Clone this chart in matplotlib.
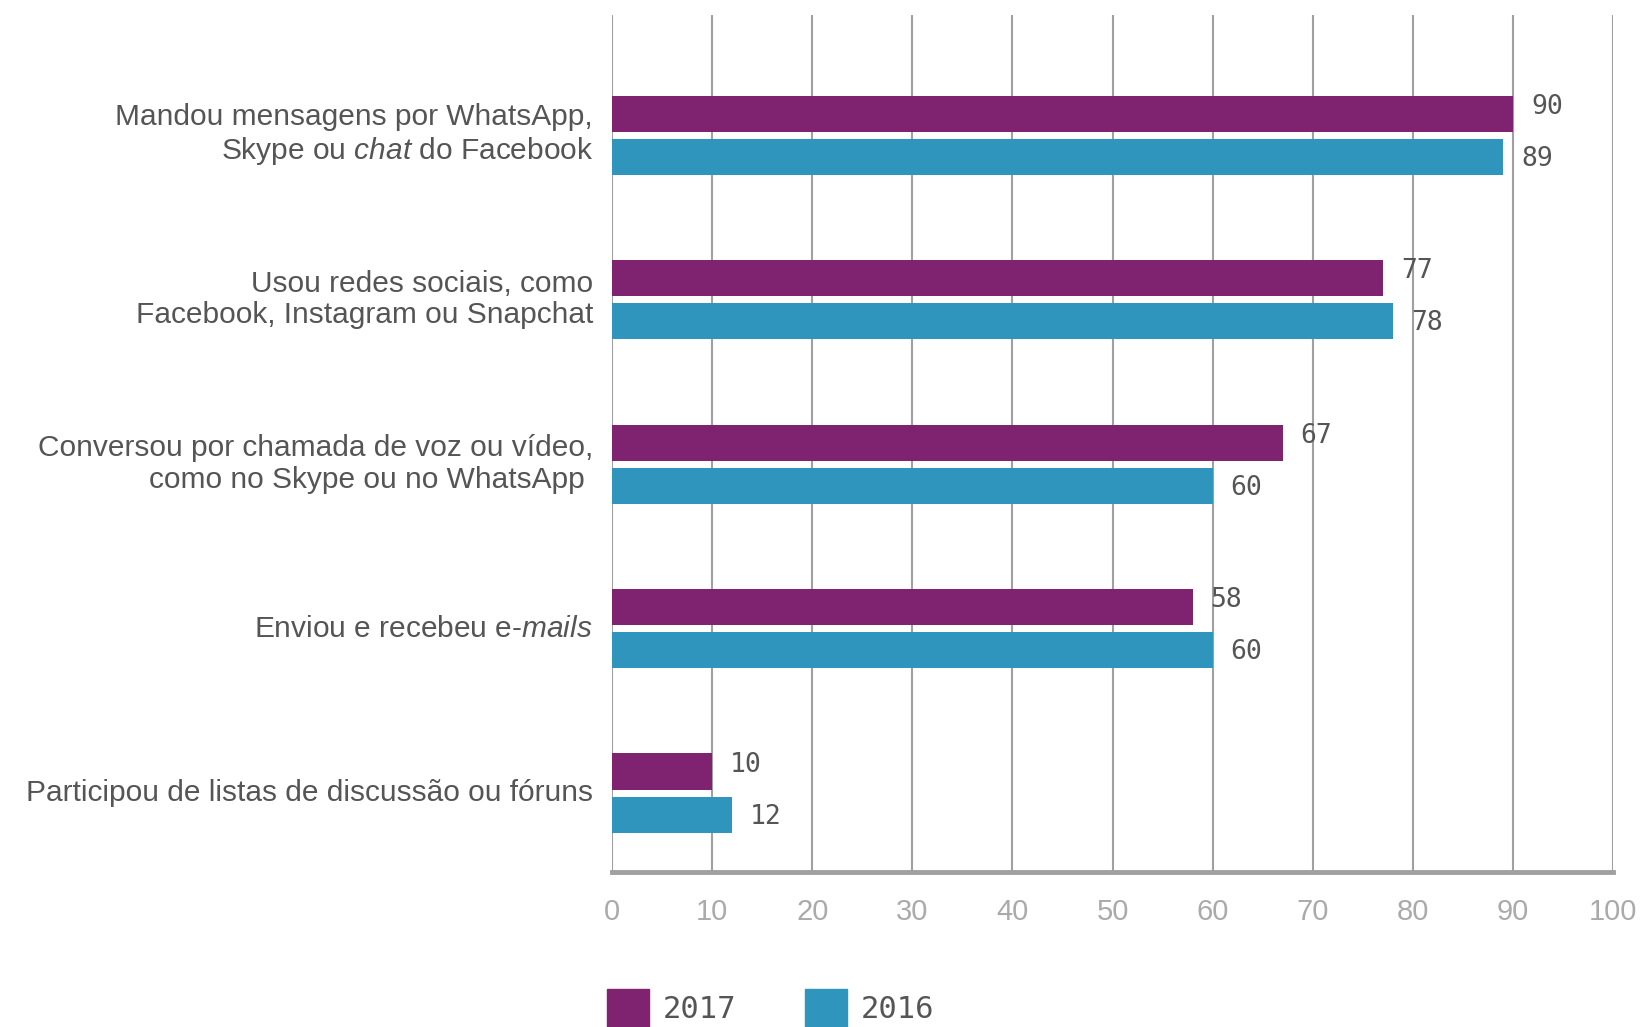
import matplotlib
matplotlib.use("Agg")
import matplotlib.pyplot as plt
import numpy as np
from matplotlib import font_manager
from matplotlib.patches import Patch


def pick(names):
    for n in names:
        try:
            font_manager.findfont(n, fallback_to_default=False)
            return n
        except Exception:
            pass
    return "DejaVu Sans"


LABEL_FONT = pick(["Liberation Sans", "DejaVu Sans"])
TICK_FONT = pick(["Liberation Sans", "DejaVu Sans"])
NUM_FONT = pick(["DejaVu Sans Mono"])

plt.rcParams["mathtext.fontset"] = "custom"
plt.rcParams["mathtext.rm"] = LABEL_FONT
plt.rcParams["mathtext.it"] = LABEL_FONT + ":italic"

# ---- data ----
categories = [
    "Mandou mensagens por WhatsApp,\nSkype ou $\\mathit{chat}$ do Facebook ",
    "Usou redes sociais, como\nFacebook, Instagram ou Snapchat",
    "Conversou por chamada de voz ou vídeo,\ncomo no Skype ou no WhatsApp ",
    "Enviou e recebeu e-$\\mathit{mails}$",
    "Participou de listas de discussão ou fóruns",
]
values_2017 = [90, 77, 67, 58, 10]
values_2016 = [89, 78, 60, 60, 12]
series_names = ["2017", "2016"]
xticks = [0, 10, 20, 30, 40, 50, 60, 70, 80, 90, 100]

C17 = "#7F2270"
C16 = "#2F95BC"
TXT = "#555555"
GRID = "#a0a0a0"

fig = plt.figure(figsize=(16.43, 10.27), dpi=100)
ax = fig.add_axes([612 / 1643, 1 - 872 / 1027, 1001 / 1643, (872 - 15) / 1027])

n = len(categories)
y = np.arange(n)[::-1].astype(float)
h = 0.219
off = 0.131

ax.barh(y + off, values_2017, height=h, color=C17, zorder=3)
ax.barh(y - off, values_2016, height=h, color=C16, zorder=3)

for v, yy in zip(values_2017, y + off):
    ax.annotate(str(v), (v, yy), xytext=(13, 5), textcoords="offset points",
                ha="left", va="center", fontsize=19, family=NUM_FONT, color=TXT)
for v, yy in zip(values_2016, y - off):
    ax.annotate(str(v), (v, yy), xytext=(13, -1.5), textcoords="offset points",
                ha="left", va="center", fontsize=19, family=NUM_FONT, color=TXT)

for lab, yy in zip(categories, y):
    ax.text(-1.9, yy, lab, ha="right", va="center", fontsize=21.5,
            family=LABEL_FONT, color=TXT, linespacing=1.15)

ax.set_xlim(0, 100)
ax.set_ylim(-0.48, 4.73)
ax.set_xticks(xticks)
ax.set_xticklabels([str(t) for t in xticks], family=TICK_FONT, fontsize=21, color="#aaaaaa")
ax.tick_params(axis="x", length=0, pad=19)
ax.set_yticks([])
ax.xaxis.grid(True, color=GRID, linewidth=1.5, zorder=0)
for s in ["top", "right", "left"]:
    ax.spines[s].set_visible(False)
ax.spines["bottom"].set_color(GRID)
ax.spines["bottom"].set_linewidth(3.5)
ax.spines["bottom"].set_zorder(4)

handles = [Patch(color=C17), Patch(color=C16)]
leg = fig.legend(handles, series_names, loc="center left",
                 bbox_to_anchor=(607 / 1643, 1 - 1008 / 1027), ncol=2, frameon=False,
                 prop={"family": NUM_FONT, "size": 22}, handlelength=1.37, handleheight=1.5,
                 handletextpad=0.45, columnspacing=2.25, borderpad=0, borderaxespad=0)
for t in leg.get_texts():
    t.set_color(TXT)

fig.savefig("out.png", dpi=100, facecolor="white")
